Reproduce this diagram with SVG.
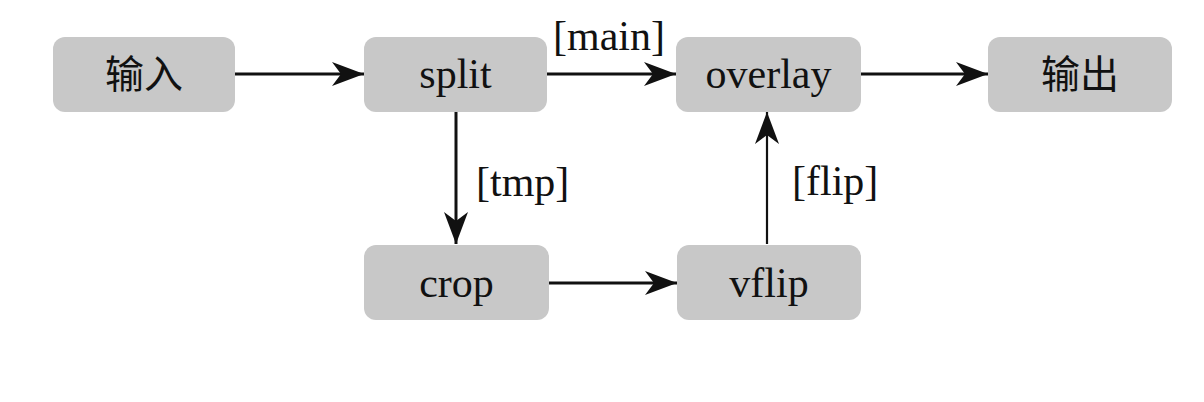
<svg xmlns="http://www.w3.org/2000/svg" width="1204" height="402" viewBox="0 0 1204 402">
<style>
.node rect{fill:#c8c8c8;}
.node text{font-family:"Liberation Serif","Noto Sans CJK SC",serif;font-size:42px;fill:#111111;text-anchor:middle;}
.cjk{font-family:"Noto Sans CJK SC",sans-serif !important;font-size:39px !important;}
.edge{stroke:#111111;stroke-width:3;fill:none;}
.thin{stroke-width:2.2;}
.lbl{font-family:"Liberation Serif",serif;font-size:42px;fill:#111111;}
</style>
<defs>
<marker id="ah" markerUnits="userSpaceOnUse" markerWidth="34" markerHeight="26" refX="32" refY="12" orient="auto">
<path d="M0,0 L32,12 L0,24 L9,12 Z" fill="#111111"/>
</marker>
</defs>
<rect width="1204" height="402" fill="#ffffff"/>
<g id="connectors">
<line class="edge" x1="235" y1="74" x2="364" y2="74" marker-end="url(#ah)"/>
<line class="edge" x1="547" y1="74" x2="676" y2="74" marker-end="url(#ah)"/>
<line class="edge" x1="861" y1="74" x2="988" y2="74" marker-end="url(#ah)"/>
<line class="edge" x1="456" y1="112" x2="456" y2="244" marker-end="url(#ah)"/>
<line class="edge" x1="549" y1="283" x2="677" y2="283" marker-end="url(#ah)"/>
<line class="edge thin" x1="767" y1="244" x2="767" y2="112" marker-end="url(#ah)"/>
<text class="lbl" x="609" y="50" text-anchor="middle">[main]</text>
<text class="lbl" x="476" y="196">[tmp]</text>
<text class="lbl" x="792" y="195">[flip]</text>
</g>
<g id="node-input" class="node">
<rect x="53" y="37" width="182" height="75" rx="12"/>
<text class="cjk" x="144" y="88">输入</text>
</g>
<g id="node-split" class="node">
<rect x="364" y="37" width="183" height="75" rx="12"/>
<text x="455.5" y="88">split</text>
</g>
<g id="node-overlay" class="node">
<rect x="676" y="37" width="185" height="75" rx="12"/>
<text x="768.5" y="88">overlay</text>
</g>
<g id="node-output" class="node">
<rect x="988" y="37" width="184" height="75" rx="12"/>
<text class="cjk" x="1080" y="88">输出</text>
</g>
<g id="node-crop" class="node">
<rect x="364" y="245" width="185" height="75" rx="12"/>
<text x="456.5" y="297">crop</text>
</g>
<g id="node-vflip" class="node">
<rect x="677" y="245" width="184" height="75" rx="12"/>
<text x="769" y="297">vflip</text>
</g>
</svg>
